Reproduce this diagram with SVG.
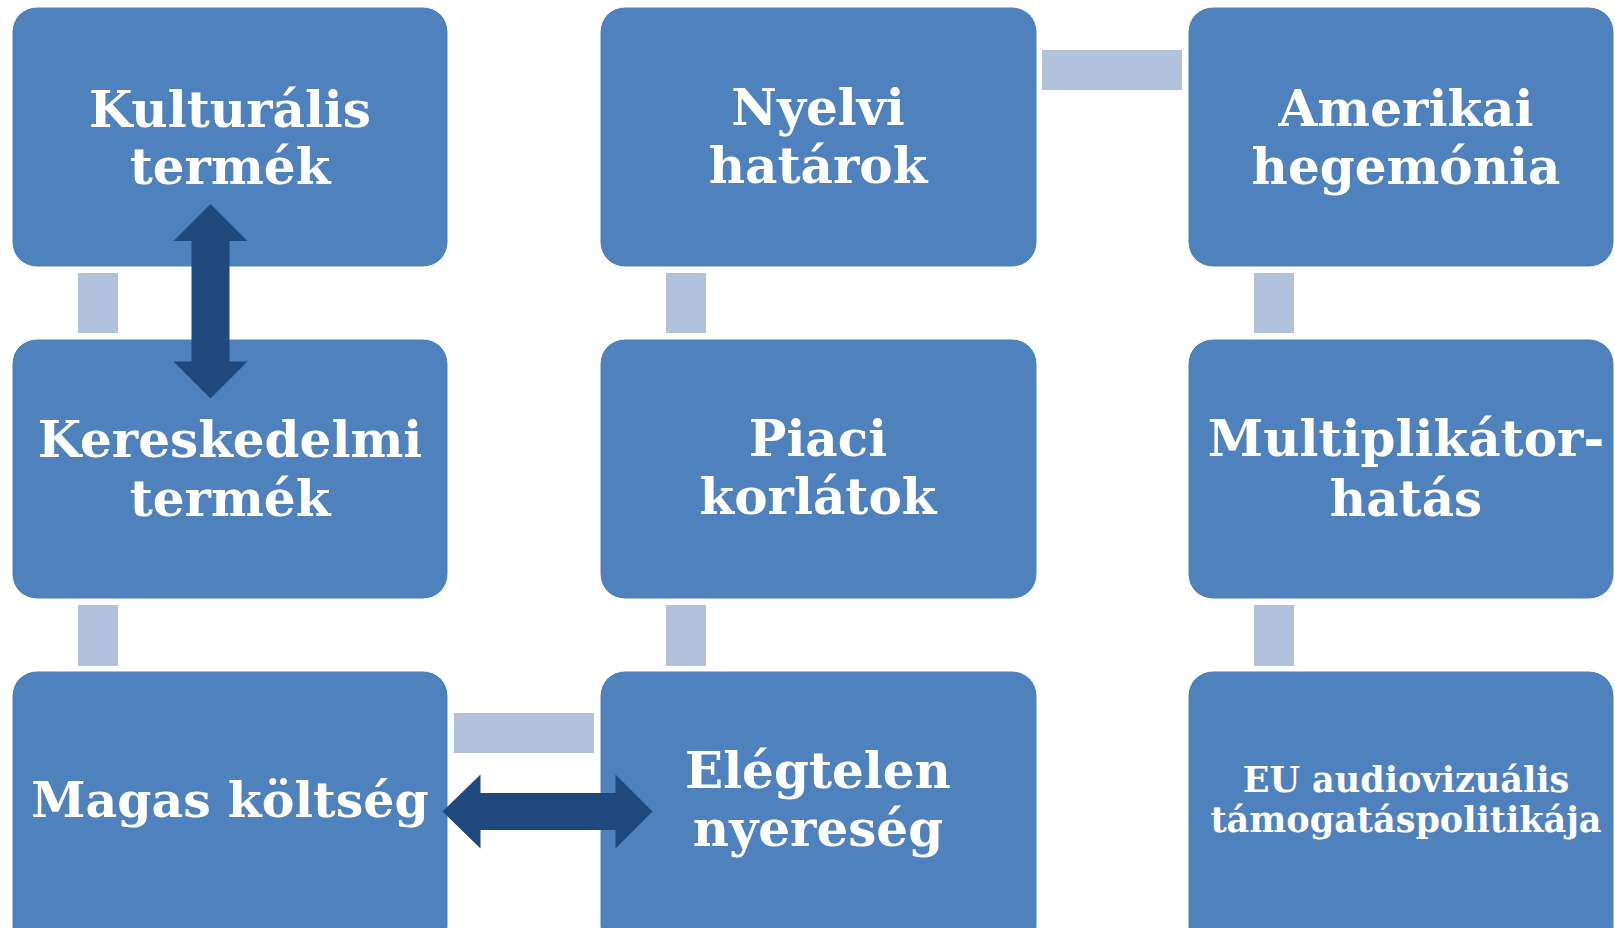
<svg xmlns="http://www.w3.org/2000/svg" width="1615" height="928" viewBox="0 0 1615 928">
<style>
.box{fill:#4F81BD;stroke:#FFFFFF;stroke-width:1}
.lbl{font-family:"DejaVu Serif","Liberation Serif",serif;font-weight:bold;fill:#FFFFFF;text-anchor:middle;font-size:50px}
.sm{font-size:35px}
.md{font-size:49px}
.link{fill:#B2C1DB}
.arrow{fill:#1F497D}
</style>
<rect x="0" y="0" width="1615" height="928" fill="#FFFFFF"/>
<g id="nodes">
<g id="n-kulturalis"><rect class="box" x="12" y="7" width="436" height="260" rx="25"/>
<text class="lbl" x="230" y="127">Kulturális</text><text class="lbl" x="230" y="184">termék</text></g>
<g id="n-nyelvi"><rect class="box" x="600" y="7" width="437" height="260" rx="25"/>
<text class="lbl" x="818" y="125">Nyelvi</text><text class="lbl" x="818" y="183">határok</text></g>
<g id="n-amerikai"><rect class="box" x="1188" y="7" width="426" height="260" rx="25"/>
<text class="lbl" x="1406" y="126">Amerikai</text><text class="lbl" x="1406" y="184">hegemónia</text></g>
<g id="n-kereskedelmi"><rect class="box" x="12" y="339" width="436" height="260" rx="25"/>
<text class="lbl" x="230" y="457">Kereskedelmi</text><text class="lbl" x="230" y="516">termék</text></g>
<g id="n-piaci"><rect class="box" x="600" y="339" width="437" height="260" rx="25"/>
<text class="lbl" x="818" y="456">Piaci</text><text class="lbl" x="818" y="514">korlátok</text></g>
<g id="n-multiplikator"><rect class="box" x="1188" y="339" width="426" height="260" rx="25"/>
<text class="lbl" x="1406" y="456">Multiplikátor-</text><text class="lbl" x="1406" y="516">hatás</text></g>
<g id="n-magas"><rect class="box" x="12" y="671" width="436" height="280" rx="25"/>
<text class="lbl md" x="230" y="817">Magas költség</text></g>
<g id="n-elegtelen"><rect class="box" x="600" y="671" width="437" height="280" rx="25"/>
<text class="lbl" x="818" y="788">Elégtelen</text><text class="lbl" x="818" y="846">nyereség</text></g>
<g id="n-eu"><rect class="box" x="1188" y="671" width="426" height="280" rx="25"/>
<text class="lbl sm" x="1406" y="792">EU audiovizuális</text><text class="lbl sm" x="1406" y="832">támogatáspolitikája</text></g>
</g>
<g id="connectors">
<rect class="link" x="78" y="273" width="40" height="60"/>
<rect class="link" x="78" y="605" width="40" height="61"/>
<rect class="link" x="666" y="273" width="40" height="60"/>
<rect class="link" x="666" y="605" width="40" height="61"/>
<rect class="link" x="1254" y="273" width="40" height="60"/>
<rect class="link" x="1254" y="605" width="40" height="61"/>
<rect class="link" x="1042" y="50" width="140" height="40"/>
<rect class="link" x="454" y="713" width="140" height="40"/>
<polygon class="arrow" points="210.5,204 247.5,241 229.5,241 229.5,361.5 247.5,361.5 210.5,398.5 173.5,361.5 191.5,361.5 191.5,241 173.5,241"/>
<polygon class="arrow" points="442.5,811.5 480.5,774.5 480.5,793 615.5,793 615.5,774.5 652.5,811.5 615.5,848.5 615.5,830 480.5,830 480.5,848.5"/>
</g>
</svg>
